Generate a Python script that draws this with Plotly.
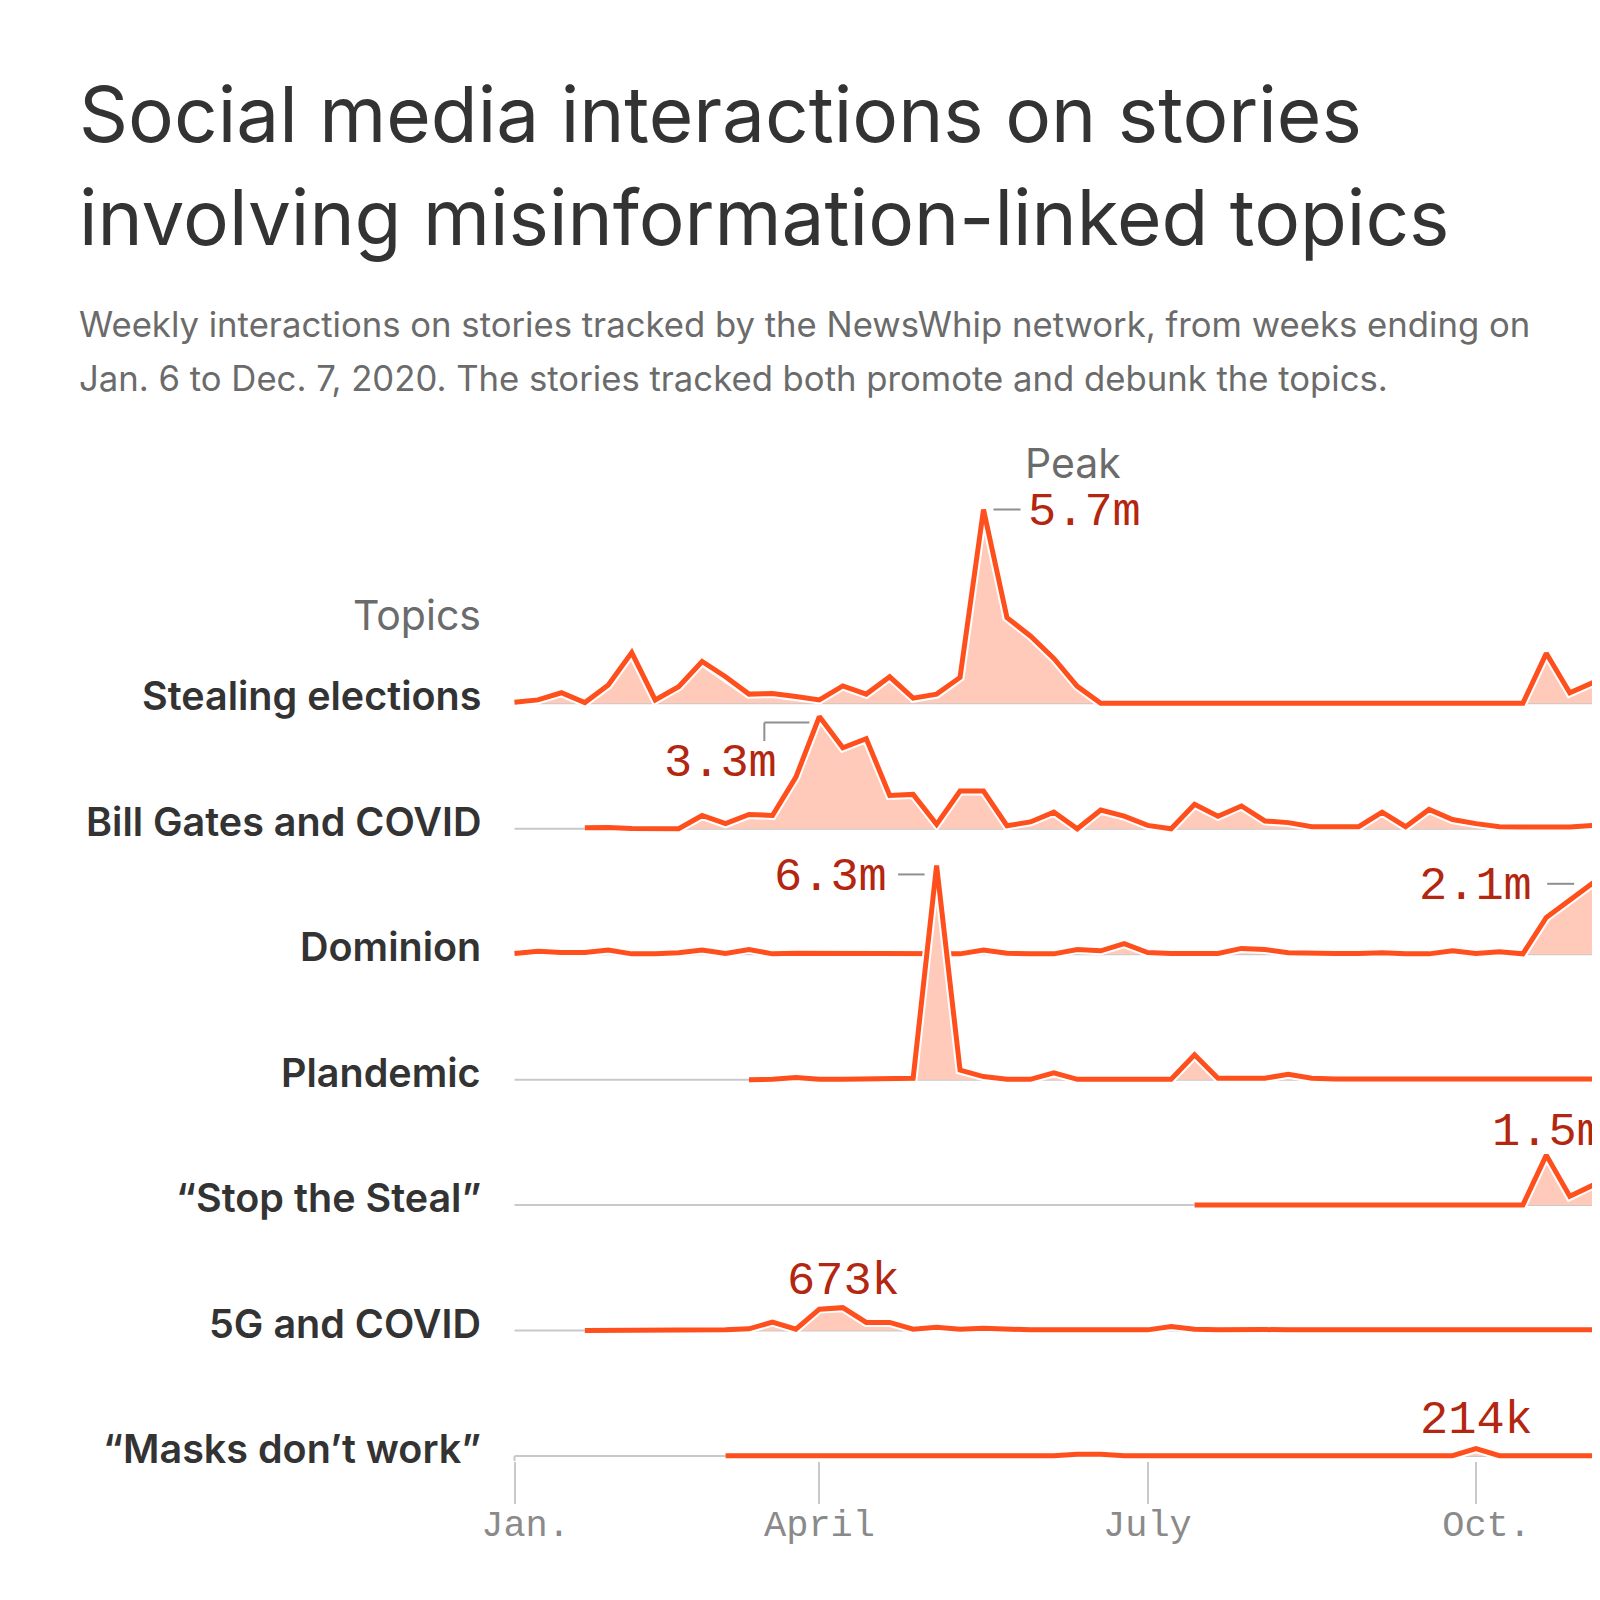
import plotly.graph_objects as go
import pandas as pd

# ---------------- data ----------------
WEEKS = [d.strftime("%Y-%m-%d") for d in pd.date_range("2020-01-06", "2020-12-07", freq="7D")]

TOPICS = ["Stealing elections", "Bill Gates and COVID", "Dominion", "Plandemic",
          "\u201cStop the Steal\u201d", "5G and COVID", "\u201cMasks don\u2019t work\u201d"]

N = None
# weekly interactions, millions
STEALING_ELECTIONS = [0.03, 0.10, 0.31, 0.02, 0.54, 1.49, 0.10, 0.49, 1.23, 0.78,
                      0.27, 0.29, 0.20, 0.10, 0.51, 0.27, 0.78, 0.15, 0.27, 0.76,
                      5.70, 2.52, 1.98, 1.32, 0.50, 0.00, 0.00, 0.00, 0.00, 0.00,
                      0.00, 0.01, 0.01, 0.00, 0.00, 0.00, 0.00, 0.00, 0.00, 0.00,
                      0.00, 0.00, 0.00, 0.00, 1.47, 0.31, 0.61, 0.35, 0.25]
BILL_GATES = [N, N, N, 0.03, 0.04, 0.01, 0.00, 0.00, 0.39, 0.15,
              0.42, 0.39, 1.52, 3.30, 2.38, 2.65, 0.98, 1.01, 0.13, 1.11,
              1.11, 0.09, 0.20, 0.49, 0.00, 0.55, 0.37, 0.10, 0.00, 0.72,
              0.37, 0.67, 0.23, 0.18, 0.06, 0.05, 0.06, 0.49, 0.06, 0.57,
              0.27, 0.15, 0.06, 0.05, 0.05, 0.05, 0.10, 0.12, 0.10]
DOMINION = [0.02, 0.09, 0.05, 0.05, 0.12, 0.01, 0.01, 0.04, 0.12, 0.02,
            0.14, 0.01, 0.03, 0.03, 0.03, 0.03, 0.03, 0.03, 0.03, 0.01,
            0.12, 0.03, 0.01, 0.01, 0.14, 0.10, 0.31, 0.05, 0.02, 0.02,
            0.02, 0.17, 0.14, 0.04, 0.02, 0.02, 0.02, 0.04, 0.01, 0.01,
            0.10, 0.02, 0.07, 0.01, 1.08, 1.60, 2.10, 1.60, 1.10]
PLANDEMIC = [N, N, N, N, N, N, N, N, N, N,
             0.00, 0.01, 0.06, 0.01, 0.01, 0.01, 0.03, 0.04, 6.30, 0.28,
             0.09, 0.01, 0.01, 0.20, 0.01, 0.01, 0.01, 0.01, 0.01, 0.73,
             0.04, 0.04, 0.04, 0.16, 0.04, 0.02, 0.02, 0.02, 0.02, 0.02,
             0.02, 0.02, 0.02, 0.02, 0.02, 0.02, 0.02, 0.02, 0.02]
STOP_THE_STEAL = [N, N, N, N, N, N, N, N, N, N,
                  N, N, N, N, N, N, N, N, N, N,
                  N, N, N, N, N, N, N, N, N, 0.00,
                  0.00, 0.00, 0.00, 0.00, 0.00, 0.00, 0.00, 0.00, 0.00, 0.00,
                  0.00, 0.00, 0.00, 0.00, 1.47, 0.26, 0.59, 0.40, 0.30]
FIVE_G = [N, N, N, 0.00, 0.00, 0.01, 0.02, 0.02, 0.02, 0.02,
          0.05, 0.25, 0.04, 0.63, 0.673, 0.24, 0.24, 0.04, 0.10, 0.04,
          0.07, 0.04, 0.02, 0.02, 0.02, 0.02, 0.02, 0.02, 0.12, 0.04,
          0.02, 0.04, 0.03, 0.02, 0.02, 0.02, 0.02, 0.02, 0.02, 0.02,
          0.02, 0.02, 0.02, 0.02, 0.02, 0.02, 0.02, 0.02, 0.02]
MASKS = [N, N, N, N, N, N, N, N, N, 0.01,
         0.01, 0.01, 0.01, 0.01, 0.01, 0.01, 0.01, 0.02, 0.02, 0.01,
         0.01, 0.01, 0.01, 0.01, 0.05, 0.05, 0.01, 0.01, 0.01, 0.01,
         0.01, 0.01, 0.01, 0.01, 0.01, 0.01, 0.01, 0.01, 0.01, 0.01,
         0.01, 0.214, 0.01, 0.01, 0.01, 0.01, 0.01, 0.01, 0.01]

SERIES = [STEALING_ELECTIONS, BILL_GATES, DOMINION, PLANDEMIC, STOP_THE_STEAL, FIVE_G, MASKS]

TICK_WEEKS = ["2020-01-06", "2020-04-06", "2020-07-13", "2020-10-19"]
TICK_TEXT = ["\u00a0Jan.", "April", "July", "\u00a0Oct."]

# peak labels: (row, week, text)
PEAKS = [(0, "2020-05-25", "5.7m"), (1, "2020-04-06", "3.3m"), (3, "2020-05-11", "6.3m"),
         (2, "2020-11-23", "2.1m"), (4, "2020-11-09", "1.5m"), (5, "2020-04-13", "673k"),
         (6, "2020-10-19", "214k")]

# ---------------- layout / style ----------------
OFF = 8                      # page body margin
W, H = 1592, 1592
L, R, T = 507 - OFF, 0, 420 - OFF
B = H - (1461 - OFF)
PX_PER_M = 34.0
ROW0_PX = 703.3 - OFF
ROW_GAP_PX = 125.45
WEEK_PX = 23.45
X0_PX = 514.5 - OFF
ROW_GAP = ROW_GAP_PX / PX_PER_M

ORANGE = "#ff4f1d"
FILL = "#ffcab9"
BASE = "#c9c9c9"
RED = "#b3260f"
GRAY_TXT = "#6b6b6b"
DARK = "#333333"
SANS = "Inter"
MONO = "Liberation Mono"


def px_x(page_px):
    return (page_px - OFF - L) / (W - L - R)


def px_y(page_py):
    return (H - B - (page_py - OFF)) / (H - T - B)


start = pd.Timestamp(WEEKS[0])
x_lo = start - pd.Timedelta(days=(X0_PX - L) / WEEK_PX * 7)
x_hi = x_lo + pd.Timedelta(days=(W - L - R) / WEEK_PX * 7)
y_lo = (ROW0_PX - (H - B)) / PX_PER_M
y_hi = (ROW0_PX - T) / PX_PER_M

fig = go.Figure()
for k, vals in enumerate(SERIES):
    off = -k * ROW_GAP
    fig.add_trace(go.Scatter(x=WEEKS, y=[off] * len(WEEKS), mode="lines",
                             line=dict(color=BASE, width=2), hoverinfo="skip", showlegend=False))
    xs = [w for w, v in zip(WEEKS, vals) if v is not None]
    ys = [v + off for v in vals if v is not None]
    fig.add_trace(go.Scatter(x=xs, y=[off] * len(xs), mode="lines",
                             line=dict(width=0, color="rgba(0,0,0,0)"), hoverinfo="skip", showlegend=False))
    fig.add_trace(go.Scatter(x=xs, y=ys, mode="lines", fill="tonexty", fillcolor=FILL,
                             line=dict(color="white", width=9), hoverinfo="skip", showlegend=False))
    fig.add_trace(go.Scatter(x=xs, y=ys, mode="lines", line=dict(color=ORANGE, width=5),
                             name=TOPICS[k], showlegend=False))

annotations = []
shapes = []

# title and subtitle
head = [
    dict(text="Social media interactions on stories", x=px_x(77), y=px_y(114.5),
         font=dict(family=SANS, size=76.5, color=DARK)),
    dict(text="involving misinformation-linked topics", x=px_x(77), y=px_y(216.5),
         font=dict(family=SANS, size=76.5, color=DARK)),
    dict(text="Weekly interactions on stories tracked by the NewsWhip network, from weeks ending on",
         x=px_x(77), y=px_y(324.5), font=dict(family=SANS, size=34.7, color=GRAY_TXT)),
    dict(text="Jan. 6 to Dec. 7, 2020. The stories tracked both promote and debunk the topics.",
         x=px_x(77), y=px_y(378.5), font=dict(family=SANS, size=34.7, color=GRAY_TXT)),
]
for a in head:
    a.update(xref="paper", yref="paper", xanchor="left", yanchor="middle", showarrow=False)
annotations += head

annotations.append(dict(text="Topics", xref="paper", yref="paper", x=px_x(483), y=px_y(614.5),
                        xanchor="right", yanchor="middle", showarrow=False,
                        font=dict(family=SANS, size=41, color=GRAY_TXT)))
annotations.append(dict(text="Peak", xref="paper", yref="paper", x=px_x(1023), y=px_y(463),
                        xanchor="left", yanchor="middle", showarrow=False,
                        font=dict(family=SANS, size=41, color=GRAY_TXT)))

# row labels
for k, name in enumerate(TOPICS):
    annotations.append(dict(text=name, xref="paper", yref="y", x=px_x(483), y=-k * ROW_GAP,
                            yshift=7, xanchor="right", yanchor="middle", showarrow=False,
                            font=dict(family=SANS, size=39.5, color=DARK, weight=600)))

# x tick labels
for wk, txt in zip(TICK_WEEKS, TICK_TEXT):
    annotations.append(dict(text=txt, xref="x", yref="paper", x=wk, y=px_y(1526),
                            xanchor="center", yanchor="middle", showarrow=False,
                            font=dict(family=MONO, size=37, color="#8a8a8a")))

# peak labels (offsets in px relative to the peak point)
LABEL_POS = {
    "5.7m": dict(xanchor="left", xshift=42, yshift=-2.5),
    "3.3m": dict(xanchor="right", xshift=-40, yshift=-46.5),
    "6.3m": dict(xanchor="right", xshift=-48, yshift=-12.5),
    "2.1m": dict(xanchor="right", xshift=-59, yshift=-3.5),
    "1.5m": dict(xanchor="center", xshift=2, yshift=23),
    "673k": dict(xanchor="center", xshift=1, yshift=26.5),
    "214k": dict(xanchor="center", xshift=0.5, yshift=28.5),
}
LEADERS = {
    "5.7m": [(10, 0, 37, 0)],
    "3.3m": [(-10, -6, -55, -6), (-55, -6, -55, -24.5)],
    "6.3m": [(-38.5, -9, -12, -9)],
    "2.1m": [(-46, -1, -19, -1)],
}
for row, wk, txt in PEAKS:
    i = WEEKS.index(wk)
    yv = SERIES[row][i] - row * ROW_GAP
    p = LABEL_POS[txt]
    annotations.append(dict(text=txt, x=wk, y=yv, xref="x", yref="y", showarrow=False,
                            xanchor=p["xanchor"], yanchor="middle", xshift=p["xshift"],
                            yshift=p["yshift"], font=dict(family=MONO, size=47, color=RED)))
    for (a0, b0, a1, b1) in LEADERS.get(txt, []):
        shapes.append(dict(type="line", xref="x", yref="y", xsizemode="pixel", ysizemode="pixel",
                           xanchor=wk, yanchor=yv, x0=a0, x1=a1, y0=b0, y1=b1,
                           line=dict(color="#8f8f8f", width=2)))

# connector from the first tick up to the last row's baseline
shapes.append(dict(type="line", xref="x", yref="y", x0=WEEKS[0], x1=WEEKS[0],
                   y0=-6 * ROW_GAP, y1=y_lo, line=dict(color=BASE, width=2)))

fig.update_layout(
    width=W, height=H, paper_bgcolor="white", plot_bgcolor="white",
    margin=dict(l=L, r=R, t=T, b=B, pad=0),
    showlegend=False,
    annotations=annotations, shapes=shapes,
    xaxis=dict(type="date", range=[str(x_lo), str(x_hi)], showgrid=False, zeroline=False,
               showline=False, tickmode="array", tickvals=TICK_WEEKS, ticktext=TICK_TEXT,
               ticks="outside", ticklen=42, tickwidth=2, tickcolor=BASE,
               showticklabels=False, fixedrange=True),
    yaxis=dict(range=[y_lo, y_hi], visible=False, fixedrange=True),
)

fig.write_html("out.html", config={"displayModeBar": False})
